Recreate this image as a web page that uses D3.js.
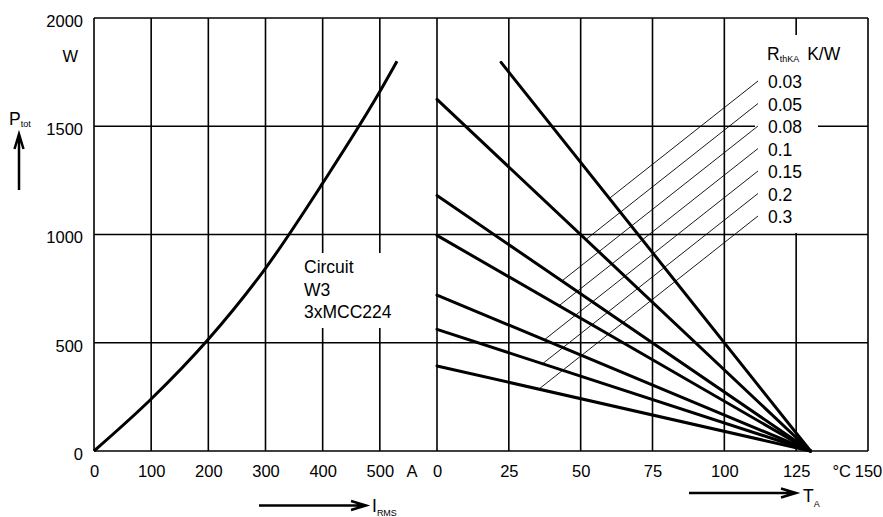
<!DOCTYPE html>
<html>
<head>
<meta charset="utf-8">
<script src="https://cdn.jsdelivr.net/npm/d3@7"></script>
<style>
  body { margin: 0; background: #fff; }
  svg { display: block; font-family: "Liberation Sans", Arial, sans-serif; }
</style>
</head>
<body>
<div id="viz"></div>
<script>
// left panel: power vs rms current
var currentA = [0, 100, 200, 300, 400, 500, 530];
var powerW = [0, 240, 516, 844, 1237, 1660, 1800];

// right panel: power vs ambient temp, one line per thermal resistance
var rthLabels = ["0.03", "0.05", "0.08", "0.1", "0.15", "0.2", "0.3"];
var startTemp = [22.3, 0, 0, 0, 0, 0, 0];
var startPower = [1795, 1624, 1180, 996, 720, 562, 393];
var endTemp = 130;

var yTicks = [0, 500, 1000, 1500, 2000];
var iTicks = [0, 100, 200, 300, 400, 500];
var tTicks = [0, 25, 50, 75, 100, 125, 150];

var width = 883, height = 517;
var margin = {top: 18, left: 94, bottom: 451, right: 868};
var split = 437;

var xI = d3.scaleLinear().domain([0, 600]).range([margin.left, split]);
var xT = d3.scaleLinear().domain([0, 150]).range([split, margin.right]);
var y = d3.scaleLinear().domain([0, 2000]).range([margin.bottom, margin.top]);

var svg = d3.select('#viz')
  .append('svg')
  .attr('width', width)
  .attr('height', height);

// grid
var grid = svg.append('g').attr('stroke', '#000').attr('stroke-width', 1.6);
grid.selectAll('line.h')
  .data(yTicks)
  .join('line')
  .attr('x1', margin.left).attr('x2', margin.right)
  .attr('y1', d => y(d)).attr('y2', d => y(d));
grid.selectAll('line.vi')
  .data(iTicks)
  .join('line')
  .attr('class', 'vi')
  .attr('x1', d => xI(d)).attr('x2', d => xI(d))
  .attr('y1', margin.top).attr('y2', margin.bottom);
grid.selectAll('line.vt')
  .data(tTicks)
  .join('line')
  .attr('class', 'vt')
  .attr('x1', d => xT(d)).attr('x2', d => xT(d))
  .attr('y1', margin.top).attr('y2', margin.bottom);

// white gaps behind the labels
svg.append('rect').attr('x', 300).attr('y', 253).attr('width', 100).attr('height', 75).attr('fill', '#fff');
svg.append('rect').attr('x', 755).attr('y', 35).attr('width', 63).attr('height', 198).attr('fill', '#fff');

// axes
var yAxis = svg.append('g')
  .attr('transform', 'translate(' + margin.left + ',0)')
  .call(d3.axisLeft(y).tickValues(yTicks).tickFormat(d3.format('d')).tickSize(0).tickPadding(11));
var iAxis = svg.append('g')
  .attr('transform', 'translate(0,' + margin.bottom + ')')
  .call(d3.axisBottom(xI).tickValues(iTicks).tickFormat(d3.format('d')).tickSize(0).tickPadding(14));
var tAxis = svg.append('g')
  .attr('transform', 'translate(0,' + margin.bottom + ')')
  .call(d3.axisBottom(xT).tickValues(tTicks).tickFormat(d3.format('d')).tickSize(0).tickPadding(14));
[yAxis, iAxis, tAxis].forEach(function(a) {
  a.select('.domain').remove();
  a.selectAll('text').attr('font-size', 16.5).attr('fill', '#000').attr('font-family', null);
});
yAxis.selectAll('text').attr('dy', '0.5em');

// curves
var line = d3.line()
  .x((d, i) => xI(currentA[i]))
  .y(d => y(d))
  .curve(d3.curveMonotoneX);
svg.append('path')
  .attr('d', line(powerW))
  .attr('fill', 'none')
  .attr('stroke', '#000')
  .attr('stroke-width', 3);

var ends = rthLabels.map(function(r, i) {
  return {x1: xT(startTemp[i]), y1: y(startPower[i]), x2: xT(endTemp), y2: y(0)};
});
svg.append('g')
  .attr('stroke', '#000')
  .attr('stroke-width', 3)
  .attr('stroke-linecap', 'round')
  .selectAll('line')
  .data(ends)
  .join('line')
  .attr('x1', d => d.x1).attr('y1', d => d.y1)
  .attr('x2', d => d.x2).attr('y2', d => d.y2);

// legend with leader lines
var legX = 768, legY = 88, legStep = 22.5, slope = 0.79;
var leaders = ends.map(function(d, i) {
  var xs = legX - 10, ys = legY + i * legStep - 7;
  var k = (d.y2 - d.y1) / (d.x2 - d.x1);
  var x = (ys + slope * xs - d.y1 + k * d.x1) / (k + slope);
  return {xs: xs, ys: ys, x: x, y: ys + slope * (xs - x)};
});
svg.append('g')
  .attr('stroke', '#000')
  .attr('stroke-width', 0.9)
  .selectAll('line')
  .data(leaders)
  .join('line')
  .attr('x1', d => d.xs).attr('y1', d => d.ys)
  .attr('x2', d => d.x).attr('y2', d => d.y);

svg.append('g')
  .selectAll('text')
  .data(rthLabels)
  .join('text')
  .attr('x', legX)
  .attr('y', (d, i) => legY + i * legStep)
  .attr('font-size', 17.5)
  .text(d => d);

var rt = svg.append('text').attr('x', 767).attr('y', 60).attr('font-size', 17.5);
rt.append('tspan').text('R');
rt.append('tspan').attr('font-size', 9).attr('dy', 2).text('thKA');
rt.append('tspan').attr('dy', -2).attr('dx', 8).text('K/W');

// circuit label
['Circuit', 'W3', '3xMCC224'].forEach(function(t, i) {
  svg.append('text').attr('x', 304).attr('y', 273 + i * 22.5).attr('font-size', 17.5).text(t);
});

// units
svg.append('text').attr('x', 78).attr('y', 62).attr('text-anchor', 'end').attr('font-size', 16.5).text('W');
svg.append('text').attr('x', 412).attr('y', 477).attr('text-anchor', 'middle').attr('font-size', 16.5).text('A');
svg.append('text').attr('x', 851).attr('y', 477).attr('text-anchor', 'end').attr('font-size', 16.5).text('°C');

// axis names with arrows
var pt = svg.append('text').attr('x', 9).attr('y', 125).attr('font-size', 17.5);
pt.append('tspan').text('P');
pt.append('tspan').attr('font-size', 9).attr('dy', 2).text('tot');

var it = svg.append('text').attr('x', 372).attr('y', 512).attr('font-size', 17.5);
it.append('tspan').text('I');
it.append('tspan').attr('font-size', 9).attr('dy', 4).text('RMS');

var tt = svg.append('text').attr('x', 803).attr('y', 502).attr('font-size', 17.5);
tt.append('tspan').text('T');
tt.append('tspan').attr('font-size', 9).attr('dy', 5).text('A');

function arrow(x1, y1, x2, y2) {
  var a = Math.atan2(y2 - y1, x2 - x1), len = 15, w = 4.5;
  var bx = x2 - len * Math.cos(a), by = y2 - len * Math.sin(a);
  var nx = -Math.sin(a) * w, ny = Math.cos(a) * w;
  var p = d3.path();
  p.moveTo(x1, y1); p.lineTo(x2, y2);
  p.moveTo(bx + nx, by + ny); p.lineTo(x2, y2); p.lineTo(bx - nx, by - ny);
  svg.append('path').attr('d', p.toString())
    .attr('fill', 'none').attr('stroke', '#000').attr('stroke-width', 2.5);
}
arrow(19, 190, 19, 134);
arrow(259, 505.5, 366, 505.5);
arrow(689, 493, 796, 493);
</script>
</body>
</html>
